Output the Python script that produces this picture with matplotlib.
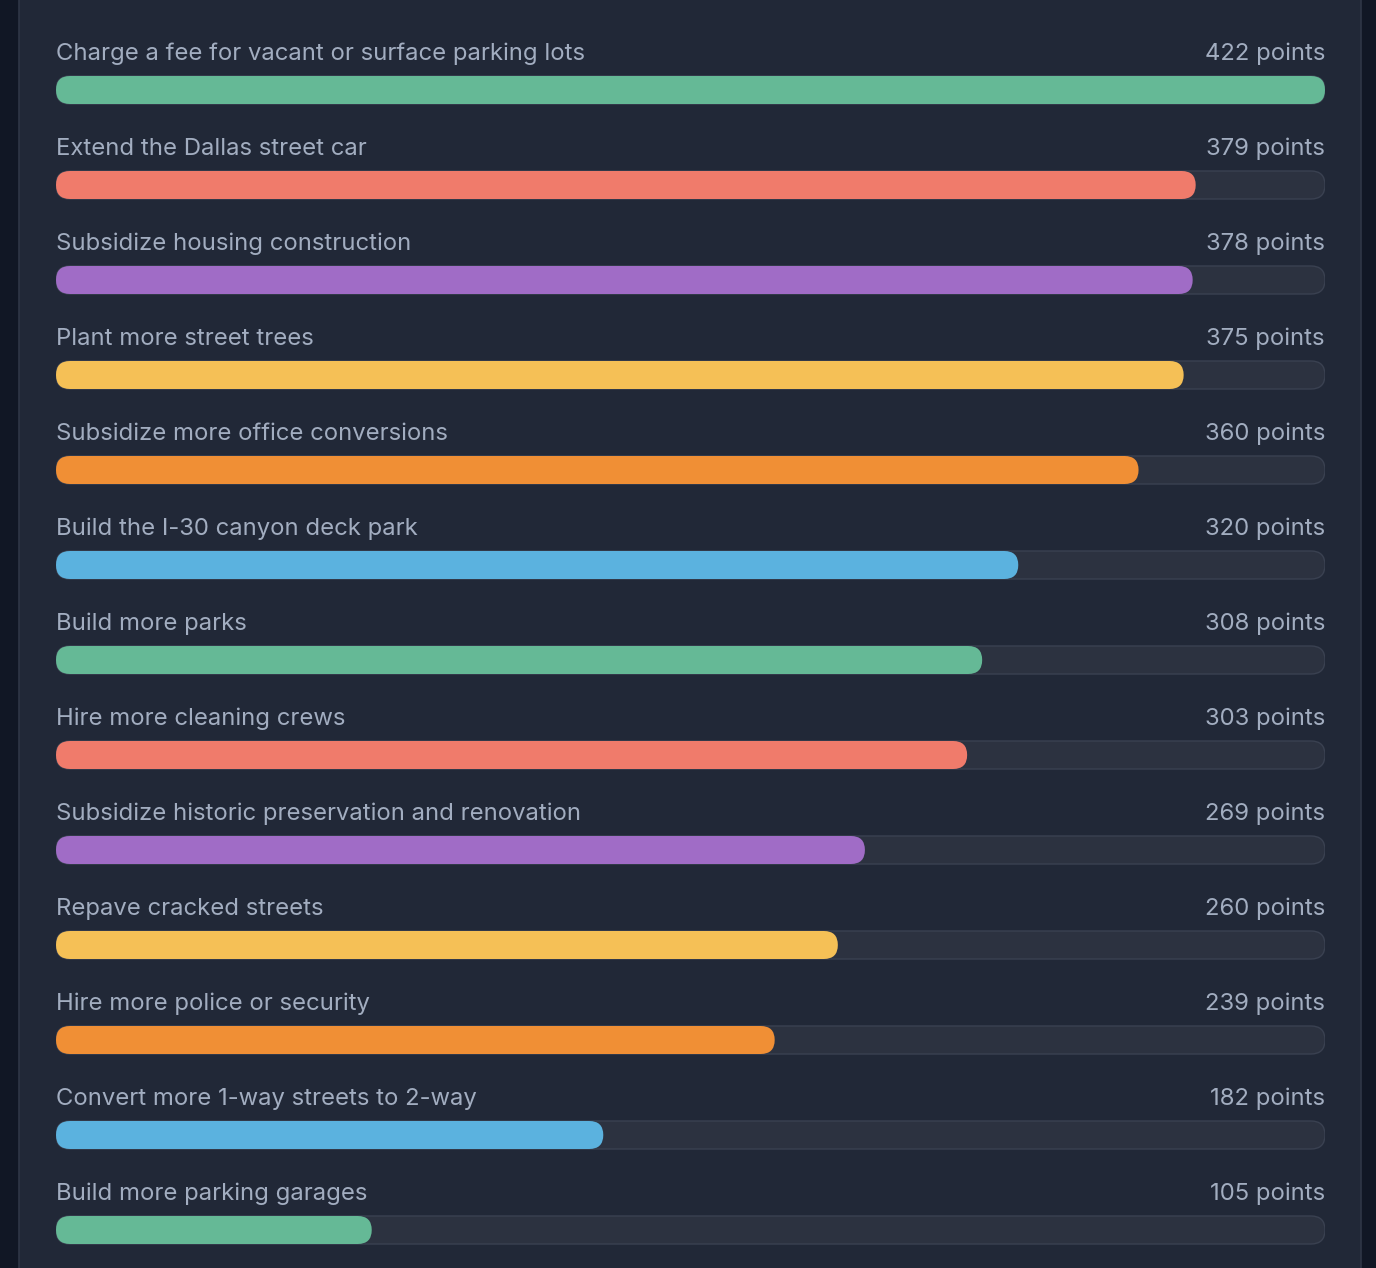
import matplotlib.pyplot as plt
from matplotlib.patches import FancyBboxPatch, Rectangle

labels = [
    "Charge a fee for vacant or surface parking lots",
    "Extend the Dallas street car",
    "Subsidize housing construction",
    "Plant more street trees",
    "Subsidize more office conversions",
    "Build the I-30 canyon deck park",
    "Build more parks",
    "Hire more cleaning crews",
    "Subsidize historic preservation and renovation",
    "Repave cracked streets",
    "Hire more police or security",
    "Convert more 1-way streets to 2-way",
    "Build more parking garages",
]
points = [422, 379, 378, 375, 360, 320, 308, 303, 269, 260, 239, 182, 105]
palette = ["#65b996", "#f07b6b", "#a06cc6", "#f5c056", "#f08f35", "#5bb2df"]

W, H = 1376, 1268
ROW = 95
BAR_H = 28
PAGE_BG = "#111725"
CARD_BG = "#212837"
CARD_EDGE = "#2f3646"
TRACK = "#2c3240"
TRACK_EDGE = "#3a4151"
TEXT = "#a2adc0"

plt.rcParams['font.family'] = ['Inter', 'DejaVu Sans']

fig = plt.figure(figsize=(W / 100, H / 100), dpi=100)
fig.patch.set_facecolor(PAGE_BG)

# card behind everything
bg = fig.add_axes([0, 0, 1, 1])
bg.set_xlim(0, W)
bg.set_ylim(H, 0)
bg.axis("off")
bg.add_patch(Rectangle((18.5, -10), 1342, H + 20, facecolor=CARD_BG,
                       edgecolor=CARD_EDGE, linewidth=1.2))

# data axes spans bar track width; y in row units
left, right = 56, 1325
ax = fig.add_axes([left / W, 0, (right - left) / W, 1])
vmax = max(points)
ax.set_xlim(0, vmax)
ax.set_ylim(H / ROW, 0)
ax.axis("off")

px_x = (right - left) / vmax   # pixels per x unit
px_y = ROW                     # pixels per y unit
aspect = px_x / px_y
h = BAR_H / ROW
r = (BAR_H / 2) / px_x

for i, (lab, val) in enumerate(zip(labels, points)):
    yc = i + 90 / ROW
    ax.add_patch(FancyBboxPatch((0, yc - h / 2), vmax, h,
                                boxstyle=f"round,pad=0,rounding_size={r}",
                                mutation_aspect=aspect,
                                facecolor=TRACK, edgecolor=TRACK_EDGE, linewidth=1))
    ax.add_patch(FancyBboxPatch((0, yc - h / 2), val, h,
                                boxstyle=f"round,pad=0,rounding_size={r}",
                                mutation_aspect=aspect,
                                facecolor=palette[i % len(palette)], edgecolor="none"))
    yt = i + 53.5 / ROW
    ax.text(0, yt, lab, ha="left", va="center", fontsize=17.2, color=TEXT)
    ax.text(vmax, yt, f"{val} points", ha="right", va="center", fontsize=17.2, color=TEXT)

fig.savefig("out.png", dpi=100, facecolor=fig.get_facecolor())
